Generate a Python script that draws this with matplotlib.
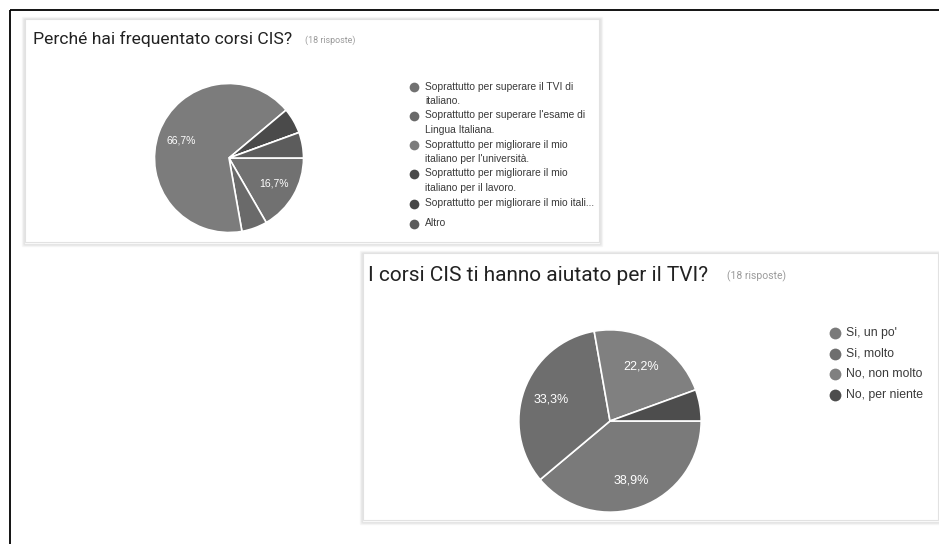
import matplotlib.pyplot as plt
from matplotlib.patches import Rectangle

# data: chart 1
q1_title = 'Perché hai frequentato corsi CIS?'
q1_labels = ['Soprattutto per superare il TVI di\nitaliano.',
             "Soprattutto per superare l'esame di\nLingua Italiana.",
             "Soprattutto per migliorare il mio\nitaliano per l'università.",
             'Soprattutto per migliorare il mio\nitaliano per il lavoro.',
             'Soprattutto per migliorare il mio itali...',
             'Altro']
q1_counts = [3, 1, 12, 1, 0, 1]
q1_colors = ['#717171', '#6a6a6a', '#7c7c7c', '#4a4a4a', '#474747', '#5c5c5c']

# data: chart 2
q2_title = 'I corsi CIS ti hanno aiutato per il TVI?'
q2_labels = ["Si, un po'", 'Si, molto', 'No, non molto', 'No, per niente']
q2_counts = [7, 6, 4, 1]
q2_colors = ['#7a7a7a', '#6e6e6e', '#808080', '#4d4d4d']

W, H = 939, 544
fig = plt.figure(figsize=(W / 100, H / 100), dpi=100)
fig.patch.set_facecolor('white')

# background axes in pixel coordinates
bg = fig.add_axes([0, 0, 1, 1])
bg.set_xlim(0, W)
bg.set_ylim(H, 0)
bg.axis('off')

# outer frame (top + left)
bg.plot([9.5, W], [9.5, 9.5], color='black', lw=1.3, solid_capstyle='butt')
bg.plot([9.5, 9.5], [9.5, H], color='black', lw=1.3, solid_capstyle='butt')


def card(x0, y0, x1, y1):
    # soft shadow then white card
    for i, a in enumerate([0.09, 0.06, 0.03]):
        d = i + 1
        bg.add_patch(Rectangle((x0 - d, y0 - d + 1), x1 - x0 + 2 * d, y1 - y0 + 2 * d,
                               facecolor='none', edgecolor='black', lw=1, alpha=a))
    bg.add_patch(Rectangle((x0, y0), x1 - x0, y1 - y0, facecolor='white',
                           edgecolor='#e2e2e2', lw=0.8))


card(25, 19, 599, 242)
card(363, 253, 938, 520)


def pct_fmt(p):
    return (f'{p:.1f}%'.replace('.', ',')) if p > 10 else ''


def draw_pie(cx, cy, r, counts, colors, fs):
    ax = fig.add_axes([(cx - r) / W, 1 - (cy + r) / H, 2 * r / W, 2 * r / H])
    ax.pie(counts, colors=colors, startangle=0, counterclock=False,
           autopct=pct_fmt, pctdistance=0.69,
           wedgeprops=dict(edgecolor='white', linewidth=1.2),
           textprops=dict(color='white', fontsize=fs, family='Liberation Sans'))
    ax.set_xlim(-1.02, 1.02)
    ax.set_ylim(-1.02, 1.02)
    return ax


draw_pie(229, 158, 76, q1_counts, q1_colors, 7.5)
draw_pie(610, 421, 93, q2_counts, q2_colors, 9)

# titles
bg.text(33, 44, q1_title, fontsize=12.6, family='Roboto', color='#222222', va='baseline')
bg.text(305, 43, '(18 risposte)', fontsize=6.4, family='Roboto', color='#9a9a9a', va='baseline')
bg.text(368, 281, q2_title, fontsize=15, family='Roboto', color='#222222', va='baseline')
bg.text(727, 279, '(18 risposte)', fontsize=7.5, family='Roboto', color='#9a9a9a', va='baseline')

# legend 1
q1_y = [87, 116, 145, 174, 204, 224]
for lab, col, y in zip(q1_labels, q1_colors, q1_y):
    bg.plot(414, y, 'o', ms=7, color=col, mec='none')
    bg.text(425, y - 5.5, lab, fontsize=7.4, family='Liberation Sans', color='#3a3a3a',
            va='top', linespacing=1.62)

# legend 2
q2_y = [333, 354, 374, 395]
for lab, col, y in zip(q2_labels, q2_colors, q2_y):
    bg.plot(835, y, 'o', ms=8.5, color=col, mec='none')
    bg.text(846, y, lab, fontsize=8.8, family='Liberation Sans', color='#3a3a3a', va='center')

fig.savefig('out.png', dpi=100)
